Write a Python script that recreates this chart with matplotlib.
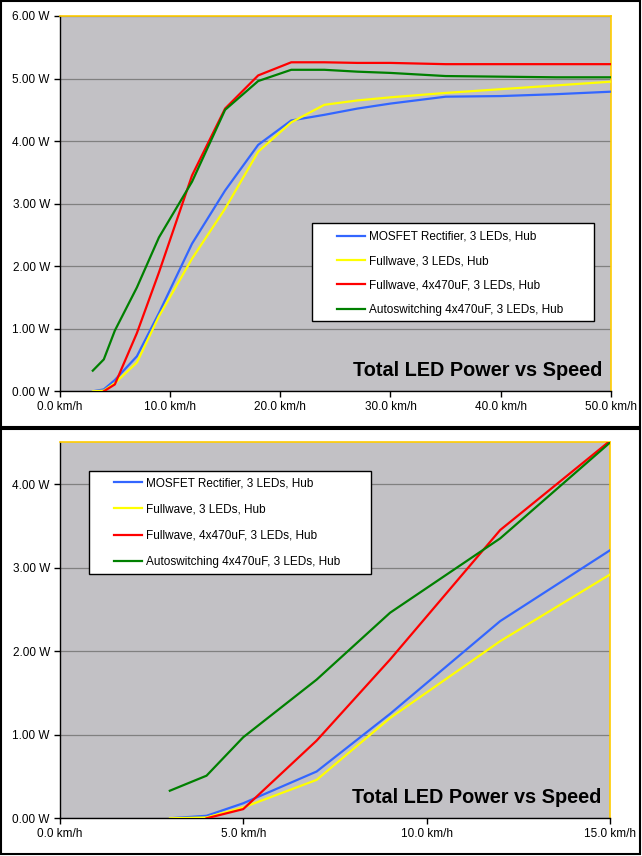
import numpy as np
import matplotlib.pyplot as plt
from matplotlib.patches import Rectangle

plt.rcParams['font.family'] = ['Liberation Sans', 'DejaVu Sans']

# speed in km/h, power in W
speed = [3, 4, 5, 7, 9, 12, 15, 18, 21, 24, 27, 30, 35, 40, 45, 50]
mosfet = [0.00, 0.03, 0.18, 0.56, 1.25, 2.36, 3.21, 3.94, 4.33, 4.42, 4.52, 4.60, 4.71, 4.72, 4.75, 4.79]
fullwave = [0.00, 0.01, 0.13, 0.46, 1.20, 2.12, 2.92, 3.83, 4.30, 4.58, 4.65, 4.70, 4.77, 4.83, 4.89, 4.95]
fullwave_cap = [np.nan, 0.00, 0.11, 0.93, 1.90, 3.45, 4.52, 5.05, 5.26, 5.26, 5.25, 5.25, 5.23, 5.23, 5.23, 5.23]
autoswitch = [0.33, 0.51, 0.97, 1.66, 2.46, 3.35, 4.50, 4.96, 5.14, 5.14, 5.11, 5.09, 5.04, 5.03, 5.02, 5.02]

names = ['MOSFET Rectifier, 3 LEDs, Hub', 'Fullwave, 3 LEDs, Hub',
         'Fullwave, 4x470uF, 3 LEDs, Hub', 'Autoswitching 4x470uF, 3 LEDs, Hub']
colors = ['#3366ff', '#ffff00', '#ff0000', '#008000']
title = 'Total LED Power vs Speed'

W, H = 642, 856
fig = plt.figure(figsize=(W / 100, H / 100), dpi=100)
fig.patch.set_facecolor('white')

# outer frames of the two charts
fig.add_artist(Rectangle((1 / W, 1 - 427 / H), 639 / W, 426 / H, transform=fig.transFigure,
                         fill=False, edgecolor='black', lw=1.5))
fig.add_artist(Rectangle((1 / W, 1 - 854 / H), 639 / W, 425 / H, transform=fig.transFigure,
                         fill=False, edgecolor='black', lw=1.5))


def panel(rect, xmax, ymax, xticks, yticks, box, handle_xy, spacing):
    ax = fig.add_axes(rect)
    ax.set_facecolor('#c2c1c5')
    series = [mosfet, fullwave, fullwave_cap, autoswitch]
    lines = []
    for vals, c, n in zip(series, colors, names):
        l, = ax.plot(speed, vals, color=c, lw=1.6, label=n, zorder=3)
        lines.append(l)
    ax.set_xlim(0, xmax)
    ax.set_ylim(0, ymax)
    ax.set_xticks(xticks)
    ax.set_xticklabels(['%.1f km/h' % v for v in xticks])
    ax.set_yticks(yticks)
    ax.set_yticklabels(['%.2f W' % v for v in yticks])
    ax.yaxis.grid(True, color='#808080', lw=0.9)
    ax.set_axisbelow(True)
    ax.tick_params(direction='out', length=4, width=1, labelsize=8.5, pad=3)
    for s in ['left', 'bottom']:
        ax.spines[s].set_color('black')
        ax.spines[s].set_linewidth(1)
    for s in ['top', 'right']:
        ax.spines[s].set_color('#ffcc00')
        ax.spines[s].set_linewidth(1.2)
    ax.add_patch(Rectangle(box[:2], box[2], box[3], transform=ax.transAxes,
                           facecolor='white', edgecolor='black', lw=1, zorder=4))
    leg = ax.legend(handles=lines, loc='upper left', bbox_to_anchor=handle_xy,
                    frameon=False, borderpad=0, borderaxespad=0, fontsize=8.5,
                    handlelength=2.4, handletextpad=0.3, labelspacing=spacing)
    leg.set_zorder(5)
    ax.text(0.984, 0.041, title, transform=ax.transAxes, ha='right', va='baseline',
            fontsize=14.3, fontweight='bold', zorder=5)
    return ax


panel([59.7 / W, 1 - 391.3 / H, 551.3 / W, 375.3 / H], 50, 6,
      [0, 10, 20, 30, 40, 50], [0, 1, 2, 3, 4, 5, 6],
      (0.458, 0.187, 0.5115, 0.2606), (0.503, 0.428), 1.05)

panel([59.7 / W, 1 - 818.3 / H, 550.6 / W, 376 / H], 15, 4.5,
      [0, 5, 10, 15], [0, 1, 2, 3, 4],
      (0.0538, 0.649, 0.5116, 0.2755), (0.0986, 0.9075), 1.22)

fig.savefig('out.png', dpi=100, facecolor=fig.get_facecolor())
